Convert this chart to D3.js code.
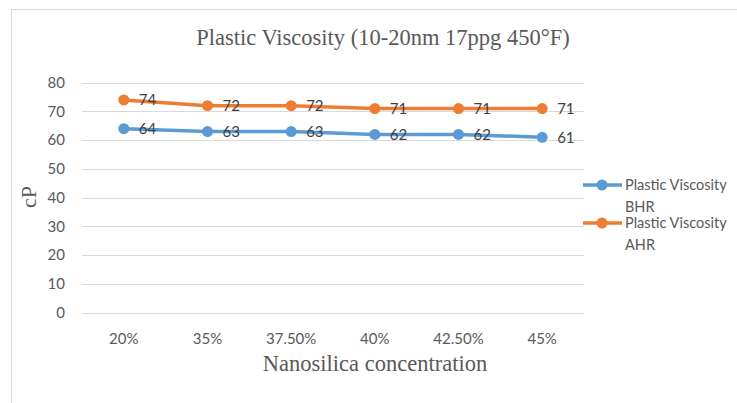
<!DOCTYPE html>
<html>
<head>
<meta charset="utf-8">
<script src="https://cdn.jsdelivr.net/npm/d3@7"></script>
<style>
  html, body { margin: 0; padding: 0; background: #fff; }
  svg { display: block; }
</style>
</head>
<body>
<svg id="chart" width="737" height="403"></svg>
<script>
// Nanosilica concentrations on the x axis
const categories = ["20%", "35%", "37.50%", "40%", "42.50%", "45%"];
// Plastic viscosity (cP) before and after hot rolling
const bhrValues = [64, 63, 63, 62, 62, 61];
const ahrValues = [74, 72, 72, 71, 71, 71];
const yTicks = [0, 10, 20, 30, 40, 50, 60, 70, 80];
const seriesNames = [["Plastic Viscosity", "BHR"], ["Plastic Viscosity", "AHR"]];

const svg = d3.select("#chart");
const textColor = "#595959";
const sansFont = "Lato, 'Open Sans', sans-serif";
const serifFont = "'Liberation Serif', 'DejaVu Serif', serif";

// Chart frame
svg.append("rect")
  .attr("x", 11.5).attr("y", 9.5)
  .attr("width", 740).attr("height", 400)
  .attr("fill", "#fff").attr("stroke", "#d9d9d9").attr("stroke-width", 1);

const plot = { left: 82, right: 584, top: 82.7, bottom: 312.5 };

const x = d3.scaleBand().domain(categories).range([plot.left, plot.right]);
const y = d3.scaleLinear().domain([0, 80]).range([plot.bottom, plot.top]);

// Horizontal gridlines
svg.append("g").selectAll("line").data(yTicks).join("line")
  .attr("x1", plot.left).attr("x2", plot.right)
  .attr("y1", d => Math.round(y(d)) + 0.5).attr("y2", d => Math.round(y(d)) + 0.5)
  .attr("stroke", "#d9d9d9").attr("stroke-width", 1);

// Y axis labels
const yAxis = d3.axisLeft(y).tickValues(yTicks).tickSize(0).tickPadding(17);
const gy = svg.append("g").attr("transform", `translate(${plot.left},0)`).call(yAxis);
gy.select(".domain").remove();
gy.selectAll("text").attr("fill", textColor).style("font-family", sansFont).style("font-size", "15px");

// X axis labels
const xAxis = d3.axisBottom(x).tickSize(0).tickPadding(21);
const gx = svg.append("g").attr("transform", `translate(0,${plot.bottom})`).call(xAxis);
gx.select(".domain").remove();
gx.selectAll("text").attr("fill", textColor).style("font-family", sansFont).style("font-size", "15px");

// Title and axis titles
svg.append("text").attr("x", 383).attr("y", 45).attr("text-anchor", "middle")
  .attr("fill", textColor).style("font-family", serifFont).style("font-size", "22.5px")
  .text("Plastic Viscosity (10-20nm 17ppg 450°F)");
svg.append("text").attr("x", 375).attr("y", 371).attr("text-anchor", "middle")
  .attr("fill", textColor).style("font-family", serifFont).style("font-size", "22.5px")
  .text("Nanosilica concentration");
svg.append("text").attr("transform", "translate(36,197) rotate(-90)").attr("text-anchor", "middle")
  .attr("fill", textColor).style("font-family", serifFont).style("font-size", "22px")
  .text("cP");

const series = [
  { values: bhrValues, color: "#5B9BD5" },
  { values: ahrValues, color: "#ED7D31" }
];

const cx = c => x(c) + x.bandwidth() / 2;
const line = d3.line().x((d, i) => cx(categories[i])).y(d => y(d));

series.forEach(s => {
  const g = svg.append("g");
  g.append("path").datum(s.values)
    .attr("d", line).attr("fill", "none")
    .attr("stroke", s.color).attr("stroke-width", 3.5).attr("stroke-linejoin", "round");
  g.selectAll("circle").data(s.values).join("circle")
    .attr("cx", (d, i) => cx(categories[i])).attr("cy", d => y(d))
    .attr("r", 5.5).attr("fill", s.color);
  g.selectAll("text").data(s.values).join("text")
    .attr("x", (d, i) => cx(categories[i]) + 15).attr("y", d => y(d) + 5.5)
    .attr("fill", "#404040").style("font-family", sansFont).style("font-size", "15px")
    .text(d => d);
});

// Legend
const legend = svg.append("g");
const legendY = [185, 223];
series.forEach((s, i) => {
  const ly = legendY[i];
  legend.append("line").attr("x1", 583).attr("x2", 622).attr("y1", ly).attr("y2", ly)
    .attr("stroke", s.color).attr("stroke-width", 3.5);
  legend.append("circle").attr("cx", 602).attr("cy", ly).attr("r", 5.5).attr("fill", s.color);
  const t = legend.append("text").attr("fill", textColor)
    .style("font-family", sansFont).style("font-size", "14.5px");
  t.append("tspan").attr("x", 625).attr("y", ly + 5).text(seriesNames[i][0]);
  t.append("tspan").attr("x", 625).attr("y", ly + 27).text(seriesNames[i][1]);
});
</script>
</body>
</html>
